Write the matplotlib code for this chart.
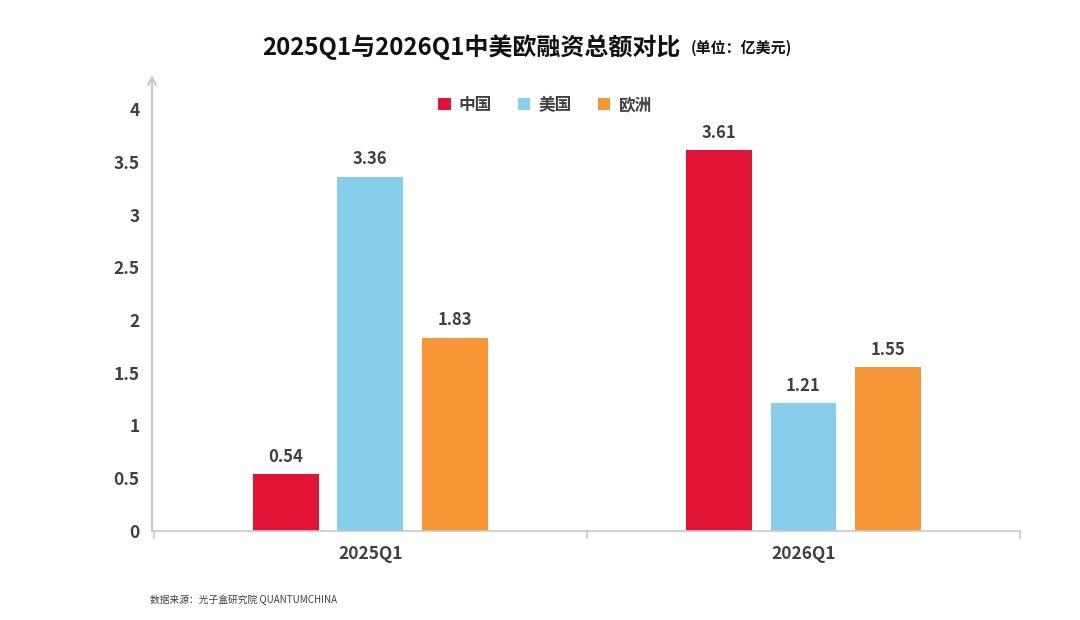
import numpy as np
import matplotlib
matplotlib.use("Agg")
import matplotlib.pyplot as plt  # noqa: E402

plt.rcParams['font.family'] = ['Noto Sans CJK SC', 'DejaVu Sans']

# data
quarters = ["2025Q1", "2026Q1"]
regions = ["中国", "美国", "欧洲"]
china = [0.54, 3.61]
usa = [3.36, 1.21]
europe = [1.83, 1.55]
yticks = [0, 0.5, 1, 1.5, 2, 2.5, 3, 3.5, 4]
colors = ["#E31237", "#87CEEB", "#F69637"]

text_color = "#404040"
axis_color = "#c8c8c8"

fig = plt.figure(figsize=(10.8, 6.2), dpi=100)
ax = fig.add_axes([152 / 1080, 1 - 531 / 620, (1020 - 152) / 1080, (531 - 75) / 620])

x = np.arange(len(quarters))
width = 0.152
step = 0.195
series = [china, usa, europe]
for k, (vals, name, col) in enumerate(zip(series, regions, colors)):
    pos = x + (k - 1) * step
    bars = ax.bar(pos, vals, width=width, color=col, label=name, zorder=2)
    for b, v in zip(bars, vals):
        ax.text(b.get_x() + b.get_width() / 2, v + 0.08, f"{v:.2f}",
                ha="center", va="bottom", fontsize=12, fontweight="bold",
                color=text_color)

ax.set_xlim(-0.504, 1.496)
ax.set_ylim(0, (531 - 75) / 105.5)

# axes styling
for s in ["top", "right", "left"]:
    ax.spines[s].set_visible(False)
ax.spines["bottom"].set_color(axis_color)
ax.spines["bottom"].set_linewidth(1.2)
ax.annotate("", xy=(0, 1), xytext=(0, 0), xycoords="axes fraction",
            arrowprops=dict(arrowstyle="->", color=axis_color, lw=1.5,
                            shrinkA=0, shrinkB=0, mutation_scale=14))

ax.set_yticks(yticks)
ax.set_yticklabels([f"{t:g}" for t in yticks])
ax.tick_params(axis="y", length=0, pad=9, labelsize=12.5, labelcolor=text_color)
for lbl in ax.get_yticklabels():
    lbl.set_fontweight("bold")

ax.set_xticks(x)
ax.set_xticklabels(quarters)
ax.tick_params(axis="x", length=0, pad=10, labelsize=12.5, labelcolor=text_color)
for lbl in ax.get_xticklabels():
    lbl.set_fontweight("bold")
ax.set_xticks([-0.5, 0.5, 1.5], minor=True)
ax.tick_params(axis="x", which="minor", length=6, color=axis_color, width=1.2)

leg = ax.legend(loc="center", bbox_to_anchor=((545 - 152) / 868, (531 - 105) / 456),
                ncol=3, frameon=False, handlelength=0.75, handleheight=0.75,
                handletextpad=0.5, columnspacing=1.55,
                prop={"size": 12, "weight": "bold"})
for t in leg.get_texts():
    t.set_color(text_color)

# title
fig.text(262 / 1080, 1 - 47 / 620, "2025Q1与2026Q1中美欧融资总额对比",
         ha="left", va="center", fontsize=17.3, fontweight="bold", color="#111111")
fig.text(691 / 1080, 1 - 48 / 620, "(单位：亿美元)",
         ha="left", va="center", fontsize=10.8, fontweight="bold", color="#111111")

fig.text(150 / 1080, 1 - 600 / 620, "数据来源：光子盒研究院 QUANTUMCHINA",
         ha="left", va="center", fontsize=7, color=text_color)

fig.savefig("out.png", dpi=100)
